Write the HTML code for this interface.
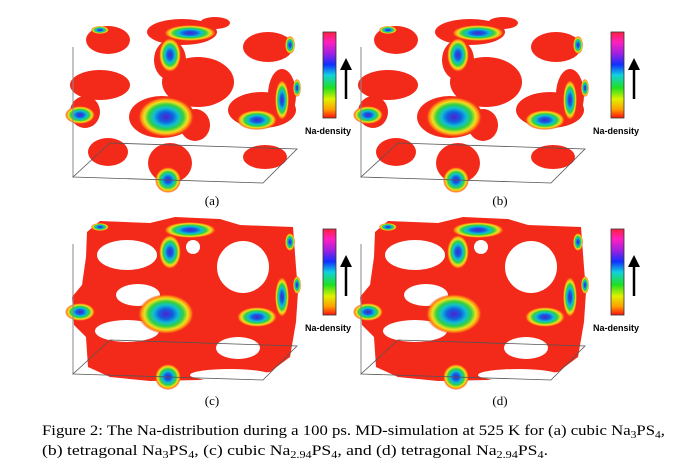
<!DOCTYPE html>
<html><head><meta charset="utf-8"><style>
body{margin:0;background:#fff;}
svg{display:block}
</style></head><body>
<svg width="691" height="476" viewBox="0 0 691 476" xmlns="http://www.w3.org/2000/svg">
<defs>
<radialGradient id="hot">
<stop offset="0" stop-color="#5020d0"/>
<stop offset="0.25" stop-color="#1060e0"/>
<stop offset="0.45" stop-color="#10c0d0"/>
<stop offset="0.62" stop-color="#30d040"/>
<stop offset="0.78" stop-color="#f0e020"/>
<stop offset="0.9" stop-color="#ff8010"/>
<stop offset="1" stop-color="#f03020" stop-opacity="0"/>
</radialGradient>
<linearGradient id="cbar" x1="0" y1="1" x2="0" y2="0">
<stop offset="0" stop-color="#ff1010"/>
<stop offset="0.1" stop-color="#ffa000"/>
<stop offset="0.22" stop-color="#e0f000"/>
<stop offset="0.35" stop-color="#20e020"/>
<stop offset="0.5" stop-color="#10d0e0"/>
<stop offset="0.62" stop-color="#1030ff"/>
<stop offset="0.75" stop-color="#a020e0"/>
<stop offset="0.88" stop-color="#ff20c0"/>
<stop offset="1" stop-color="#ff2040"/>
</linearGradient>
<g id="box">
<line x1="73" y1="47" x2="73" y2="177" stroke="#888" stroke-width="1"/>
<polygon points="73,177 263,183 297,149 110,143" fill="none" stroke="#555" stroke-width="0.8"/>
</g>
<g id="hots">
<ellipse cx="190" cy="33" rx="26" ry="8" fill="url(#hot)"/>
<ellipse cx="170" cy="55" rx="11" ry="17" fill="url(#hot)"/>
<ellipse cx="80" cy="115" rx="15" ry="9" fill="url(#hot)"/>
<ellipse cx="166" cy="117" rx="28" ry="20" fill="url(#hot)"/>
<ellipse cx="257" cy="120" rx="20" ry="10" fill="url(#hot)"/>
<ellipse cx="282" cy="100" rx="7" ry="20" fill="url(#hot)"/>
<ellipse cx="168" cy="180" rx="13" ry="13" fill="url(#hot)"/>
<ellipse cx="100" cy="30" rx="9" ry="4" fill="url(#hot)"/>
<ellipse cx="290" cy="45" rx="5" ry="9" fill="url(#hot)"/>
<ellipse cx="297" cy="88" rx="4" ry="9" fill="url(#hot)"/>
</g>
<g id="sparse" fill="#f32a1a">
<ellipse cx="108" cy="40" rx="22" ry="14"/>
<ellipse cx="182" cy="32" rx="35" ry="13"/>
<ellipse cx="215" cy="23" rx="15" ry="6"/>
<ellipse cx="170" cy="60" rx="16" ry="20"/>
<ellipse cx="268" cy="47" rx="25" ry="15"/>
<ellipse cx="100" cy="85" rx="30" ry="15"/>
<ellipse cx="85" cy="112" rx="15" ry="16"/>
<ellipse cx="198" cy="82" rx="36" ry="25"/>
<ellipse cx="162" cy="117" rx="33" ry="21"/>
<ellipse cx="195" cy="125" rx="15" ry="16"/>
<ellipse cx="262" cy="110" rx="34" ry="18"/>
<ellipse cx="282" cy="95" rx="14" ry="26"/>
<ellipse cx="170" cy="163" rx="22" ry="20"/>
<ellipse cx="108" cy="152" rx="20" ry="14"/>
<ellipse cx="265" cy="157" rx="22" ry="12"/>
</g>
<g id="dense">
<path d="M87,35 L100,24 L150,26 L175,20 L220,22 L240,28 L293,30 L296,70 L298,95 L296,125 L290,160 L270,175 L200,183 L150,184 L110,180 L88,170 L86,140 L74,128 L72,100 L82,88 L86,60 Z" fill="#f32a1a"/>
<ellipse cx="127" cy="58" rx="30" ry="15" fill="#fff"/>
<ellipse cx="243" cy="70" rx="26" ry="26" fill="#fff"/>
<ellipse cx="138" cy="98" rx="22" ry="11" fill="#fff"/>
<ellipse cx="127" cy="134" rx="32" ry="11" fill="#fff"/>
<ellipse cx="238" cy="151" rx="22" ry="11" fill="#fff"/>
<ellipse cx="193" cy="50" rx="7" ry="7" fill="#fff"/>
<ellipse cx="230" cy="178" rx="40" ry="6" fill="#fff"/>
</g>
<g id="cb">
<rect x="323" y="32" width="13" height="86" fill="url(#cbar)" stroke="#333" stroke-width="0.8"/>
<line x1="346" y1="99" x2="346" y2="68" stroke="#000" stroke-width="2.5"/>
<polygon points="340,70 352,70 346,58" fill="#000"/>
<text x="328" y="134" font-family="Liberation Sans, sans-serif" font-size="9" font-weight="bold" text-anchor="middle">Na-density</text>
</g>
</defs>

<g>
<use href="#sparse"/><use href="#hots"/><use href="#box"/><use href="#cb"/>
<text x="212" y="205" font-family="Liberation Serif, serif" font-size="13" text-anchor="middle">(a)</text>
</g>
<g transform="translate(288,0)">
<use href="#sparse"/><use href="#hots"/><use href="#box"/><use href="#cb"/>
<text x="212" y="205" font-family="Liberation Serif, serif" font-size="13" text-anchor="middle">(b)</text>
</g>
<g transform="translate(0,197)">
<use href="#dense"/><use href="#hots"/><use href="#box"/><use href="#cb"/>
<text x="212" y="208" font-family="Liberation Serif, serif" font-size="13" text-anchor="middle">(c)</text>
</g>
<g transform="translate(288,197)">
<use href="#dense"/><use href="#hots"/><use href="#box"/><use href="#cb"/>
<text x="212" y="208" font-family="Liberation Serif, serif" font-size="13" text-anchor="middle">(d)</text>
</g>

<g font-family="Liberation Serif, serif" font-size="14.5">
<text x="42" y="435" textLength="623" lengthAdjust="spacingAndGlyphs">Figure 2: The Na-distribution during a 100 ps. MD-simulation at 525 K for (a) cubic Na<tspan font-size="10" dy="3">3</tspan><tspan dy="-3">PS</tspan><tspan font-size="10" dy="3">4</tspan><tspan dy="-3">,</tspan></text>
<text x="42" y="455" textLength="506" lengthAdjust="spacingAndGlyphs">(b) tetragonal Na<tspan font-size="10" dy="3">3</tspan><tspan dy="-3">PS</tspan><tspan font-size="10" dy="3">4</tspan><tspan dy="-3">, (c) cubic Na</tspan><tspan font-size="10" dy="3">2.94</tspan><tspan dy="-3">PS</tspan><tspan font-size="10" dy="3">4</tspan><tspan dy="-3">, and (d) tetragonal Na</tspan><tspan font-size="10" dy="3">2.94</tspan><tspan dy="-3">PS</tspan><tspan font-size="10" dy="3">4</tspan><tspan dy="-3">.</tspan></text>
</g>
</svg>
</body></html>
